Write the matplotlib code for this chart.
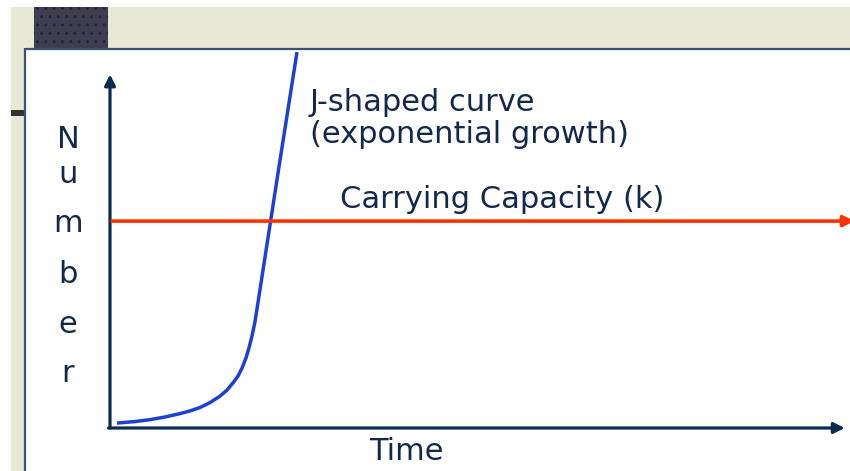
import matplotlib

matplotlib.use("Agg")
import matplotlib.pyplot as plt
from matplotlib.patches import Rectangle

# ---------------------------------------------------------------------------
# data (time in arbitrary units 0-10, number in arbitrary units 0-100)
time_pts = [0.095, 0.338, 0.541, 0.743, 0.946, 1.081, 1.216, 1.351, 1.486, 1.581,
            1.662, 1.730, 1.784, 1.838, 1.878, 1.919, 1.959, 1.995, 2.141, 2.277, 2.527]
number_pts = [1.3, 1.7, 2.2, 2.9, 3.8, 4.5, 5.4, 6.7, 8.4, 10.0,
              11.9, 13.7, 15.8, 18.5, 21.1, 24.3, 28.0, 32.5, 50.9, 68.1, 99.2]
carrying_capacity = 54.6
y_label_letters = ["N", "u", "m", "b", "e", "r"]
y_label_baselines = [148, 183, 232, 283, 333, 382]  # pixel rows of the slide

W, H = 850, 471
NAVY = "#0b2a4f"
TEXT = "#13294b"
RED = "#ff3300"
BLUE = "#1c3fd6"
BEIGE = "#e8e8d6"

fig = plt.figure(figsize=(W / 100, H / 100), dpi=100)
fig.patch.set_facecolor("white")

# slide background, drawn in pixel coords
bg = fig.add_axes([0, 0, 1, 1])
bg.set_xlim(0, W)
bg.set_ylim(H, 0)
bg.axis("off")
bg.add_patch(Rectangle((11, 7), W - 11, 41, color=BEIGE, lw=0))
bg.add_patch(Rectangle((11, 7), 14, H - 7, color=BEIGE, lw=0))
bg.add_patch(Rectangle((34, 7), 74, 41, facecolor="#3e3e4c", edgecolor="#23235a",
                       hatch="..", lw=0))
bg.add_patch(Rectangle((11, 110), 14, 6, color="#333333", lw=0))
bg.plot([25, W], [48.5, 48.5], color="#3a5572", lw=1.6, solid_capstyle="butt")
bg.plot([25.5, 25.5], [48, H], color="#3a5572", lw=1.6, solid_capstyle="butt")

# chart area: x from px 110 to 850, y from px 428 (bottom) to 49 (top)
x0, x1, ytop, ybot = 110, 850, 49, 428
ax = fig.add_axes([x0 / W, (H - ybot) / H, (x1 - x0) / W, (ybot - ytop) / H])
ax.set_xlim(0, 10)
ax.set_ylim(0, 100)
ax.patch.set_alpha(0)
ax.axis("off")

arrow = dict(arrowstyle="-|>", lw=2.3, color=NAVY, mutation_scale=16,
             shrinkA=0, shrinkB=0)
ax.annotate("", xy=(0, 93.3), xytext=(0, 0), arrowprops=arrow, annotation_clip=False)
ax.annotate("", xy=(9.93, 0), xytext=(-0.02, 0), arrowprops=arrow, annotation_clip=False)

red_arrow = dict(arrowstyle="-|>", lw=2.6, color=RED, mutation_scale=16,
                 shrinkA=0, shrinkB=0)
ax.annotate("", xy=(10.06, carrying_capacity), xytext=(0.03, carrying_capacity),
            arrowprops=red_arrow, annotation_clip=False)

ax.plot(time_pts, number_pts, color=BLUE, lw=2.5, solid_capstyle="butt",
        solid_joinstyle="round", clip_on=False)

font = dict(family="DejaVu Sans", fontsize=22, color=TEXT)
ax.text(2.70, 83.6, "J-shaped curve", va="baseline", ha="left", **font)
ax.text(2.70, 75.2, "(exponential growth)", va="baseline", ha="left", **font)
ax.text(3.11, 58.0, "Carrying Capacity (k)", va="baseline", ha="left", **font)
ax.text(4.01, -8.4, "Time", va="baseline", ha="center", clip_on=False, **font)

for letter, row in zip(y_label_letters, y_label_baselines):
    bg.text(68, row, letter, va="baseline", ha="center", **font)

fig.savefig("out.png", dpi=100, facecolor=fig.get_facecolor())
